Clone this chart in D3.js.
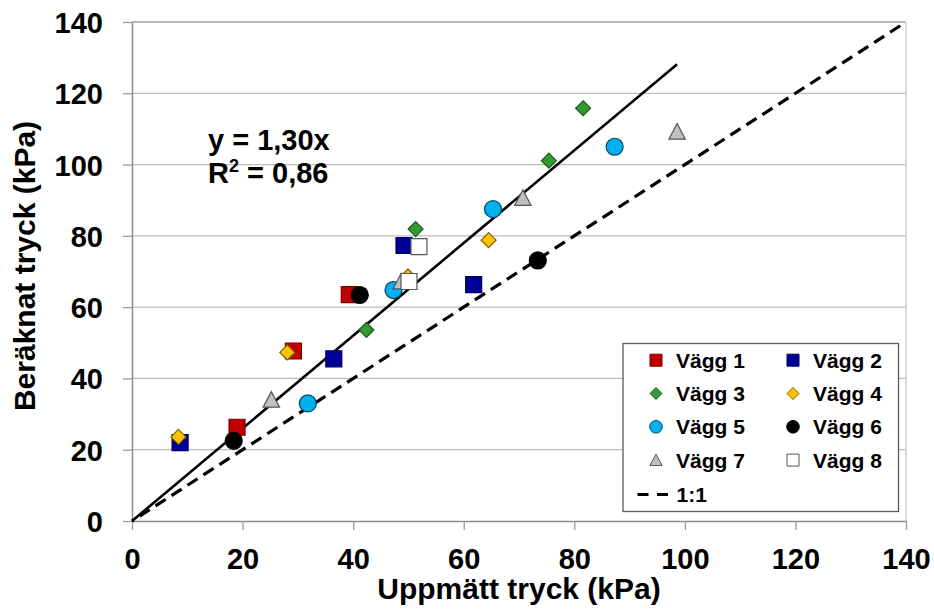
<!DOCTYPE html>
<html>
<head>
<meta charset="utf-8">
<script src="https://cdn.jsdelivr.net/npm/d3@7"></script>
<style>
  body { margin: 0; background: #fff; }
  svg text { font-family: "Liberation Sans", Arial, sans-serif; font-weight: bold; fill: #000; }
</style>
</head>
<body>
<svg id="chart" width="934" height="609"></svg>
<script>
// measured (x) and calculated (y) pressure per wall, kPa
var vagg1X = [19.0, 29.2, 39.3];
var vagg1Y = [26.3, 47.7, 63.5];
var vagg2X = [8.7, 36.5, 49.2, 61.8];
var vagg2Y = [22.0, 45.5, 77.3, 66.3];
var vagg3X = [42.4, 51.3, 75.4, 81.6];
var vagg3Y = [53.6, 81.9, 101.1, 115.8];
var vagg4X = [8.4, 28.1, 49.9, 64.5];
var vagg4Y = [23.6, 47.3, 68.6, 78.8];
var vagg5X = [31.8, 47.3, 65.3, 87.3];
var vagg5Y = [33.0, 64.8, 87.5, 105.0];
var vagg6X = [18.4, 41.2, 73.4];
var vagg6Y = [22.5, 63.4, 73.1];
var vagg7X = [25.2, 48.7, 70.7, 98.6];
var vagg7Y = [34.0, 67.2, 90.6, 109.2];
var vagg8X = [50.1, 51.9];
var vagg8Y = [67.2, 77.0];

var seriesNames = ["Vägg 1", "Vägg 2", "Vägg 3", "Vägg 4", "Vägg 5", "Vägg 6", "Vägg 7", "Vägg 8"];
var slope = 1.30;
var r2 = "0,86";
var axisTicks = [0, 20, 40, 60, 80, 100, 120, 140];

var series = [
  { name: seriesNames[0], xs: vagg1X, ys: vagg1Y, shape: "square", fill: "#C00000", stroke: "#7a0000" },
  { name: seriesNames[1], xs: vagg2X, ys: vagg2Y, shape: "square", fill: "#000099", stroke: "#00005a" },
  { name: seriesNames[2], xs: vagg3X, ys: vagg3Y, shape: "diamond", fill: "#339933", stroke: "#1e5c1e" },
  { name: seriesNames[3], xs: vagg4X, ys: vagg4Y, shape: "diamond", fill: "#FFC000", stroke: "#7f6000" },
  { name: seriesNames[4], xs: vagg5X, ys: vagg5Y, shape: "circle", fill: "#00B0F0", stroke: "#00465f" },
  { name: seriesNames[5], xs: vagg6X, ys: vagg6Y, shape: "circle", fill: "#000000", stroke: "#000000" },
  { name: seriesNames[6], xs: vagg7X, ys: vagg7Y, shape: "triangle", fill: "#C0C0C0", stroke: "#555555" },
  { name: seriesNames[7], xs: vagg8X, ys: vagg8Y, shape: "square", fill: "#FFFFFF", stroke: "#555555" }
];

var svg = d3.select("#chart");

var x = d3.scaleLinear().domain([0, 140]).range([132, 906]);
var y = d3.scaleLinear().domain([0, 140]).range([521, 22]);

// marker path centred on 0,0, s = half size
var markerPath = function (shape, s) {
  if (shape === "square") return "M" + -s + "," + -s + "h" + 2 * s + "v" + 2 * s + "h" + -2 * s + "Z";
  if (shape === "diamond") return "M0," + -s + "L" + s + ",0L0," + s + "L" + -s + ",0Z";
  if (shape === "triangle") return "M0," + -s + "L" + s + "," + s * 0.9 + "L" + -s + "," + s * 0.9 + "Z";
  return d3.arc()({ innerRadius: 0, outerRadius: s, startAngle: 0, endAngle: 2 * Math.PI });
};
var markerSize = { square: 8, diamond: 7.5, circle: 8.5, triangle: 8.2 };

// gridlines
svg.append("g").selectAll("line").data(axisTicks.slice(1)).join("line")
  .attr("x1", x(0)).attr("x2", x(140))
  .attr("y1", function (d) { return y(d); }).attr("y2", function (d) { return y(d); })
  .attr("stroke", function (d) { return d === 140 ? "#a0a0a0" : "#bcbcbc"; })
  .attr("stroke-width", 1.3);

// right border
svg.append("line")
  .attr("x1", x(140)).attr("x2", x(140)).attr("y1", y(140)).attr("y2", y(0))
  .attr("stroke", "#cfcfcf").attr("stroke-width", 1.5);

// axes
var xAxis = svg.append("g").attr("transform", "translate(0," + y(0) + ")")
  .call(d3.axisBottom(x).tickValues(axisTicks).tickSize(9).tickSizeOuter(0));
var yAxis = svg.append("g").attr("transform", "translate(" + x(0) + ",0)")
  .call(d3.axisLeft(y).tickValues(axisTicks).tickSize(9).tickSizeOuter(0));

[xAxis, yAxis].forEach(function (ax) {
  ax.select(".domain").attr("stroke", "#8c8c8c").attr("stroke-width", 1.5);
  ax.selectAll(".tick line").attr("stroke", "#9a9a9a").attr("stroke-width", 1.3);
  ax.selectAll(".tick text")
    .style("font-family", "'Liberation Sans', Arial, sans-serif")
    .style("font-weight", "bold")
    .style("font-size", "29px")
    .attr("fill", "#000");
});
xAxis.selectAll(".tick text").attr("y", 48).attr("dy", 0);
yAxis.selectAll(".tick text").attr("x", -29).attr("dy", "0.36em");

// 1:1 line
svg.append("line")
  .attr("x1", x(0)).attr("y1", y(0)).attr("x2", x(140)).attr("y2", y(140))
  .attr("stroke", "#000").attr("stroke-width", 3.2)
  .attr("stroke-dasharray", "12,7").attr("stroke-dashoffset", 10);

// trend line y = 1.30x up to max measured value
var maxX = d3.max(series, function (s) { return d3.max(s.xs); });
svg.append("line")
  .attr("x1", x(0)).attr("y1", y(0)).attr("x2", x(maxX)).attr("y2", y(slope * maxX))
  .attr("stroke", "#000").attr("stroke-width", 2.6);

// points
series.forEach(function (s) {
  svg.append("g").selectAll("path").data(s.xs.map(function (v, i) { return [v, s.ys[i]]; })).join("path")
    .attr("transform", function (d) { return "translate(" + x(d[0]) + "," + y(d[1]) + ")"; })
    .attr("d", markerPath(s.shape, markerSize[s.shape]))
    .attr("fill", s.fill).attr("stroke", s.stroke).attr("stroke-width", 1.2);
});

// equation
svg.append("text").attr("x", 208).attr("y", 150).style("font-size", "29px")
  .text("y = " + slope.toFixed(2).replace(".", ",") + "x");
var r2Text = svg.append("text").attr("x", 208).attr("y", 183).style("font-size", "29px");
r2Text.append("tspan").text("R");
r2Text.append("tspan").attr("dy", -11).style("font-size", "18px").text("2");
r2Text.append("tspan").attr("dy", 11).text(" = " + r2);

// axis titles
svg.append("text").attr("x", 519).attr("y", 599).attr("text-anchor", "middle")
  .style("font-size", "30px").text("Uppmätt tryck (kPa)");
svg.append("text").attr("transform", "translate(35,266) rotate(-90)").attr("text-anchor", "middle")
  .style("font-size", "30px").text("Beräknat tryck (kPa)");

// legend
var legend = svg.append("g");
legend.append("rect").attr("x", 623).attr("y", 343.5).attr("width", 275.5).attr("height", 168)
  .attr("fill", "#fff").attr("stroke", "#5a5a5a").attr("stroke-width", 1.3);
series.forEach(function (s, i) {
  var col = i % 2, row = Math.floor(i / 2);
  var mx = col === 0 ? 656 : 793, by = 367.7 + row * 33.3;
  legend.append("path")
    .attr("transform", "translate(" + mx + "," + (by - 7.5) + ")")
    .attr("d", markerPath(s.shape, s.shape === "circle" ? 6.3 : 6))
    .attr("fill", s.fill).attr("stroke", s.stroke).attr("stroke-width", 1);
  legend.append("text").attr("x", mx + 20).attr("y", by).style("font-size", "21px").text(s.name);
});
legend.append("line").attr("x1", 637.5).attr("x2", 669).attr("y1", 494.5).attr("y2", 494.5)
  .attr("stroke", "#000").attr("stroke-width", 3).attr("stroke-dasharray", "11,8.5");
legend.append("text").attr("x", 676.5).attr("y", 501.7).style("font-size", "21px").text("1:1");
</script>
</body>
</html>
